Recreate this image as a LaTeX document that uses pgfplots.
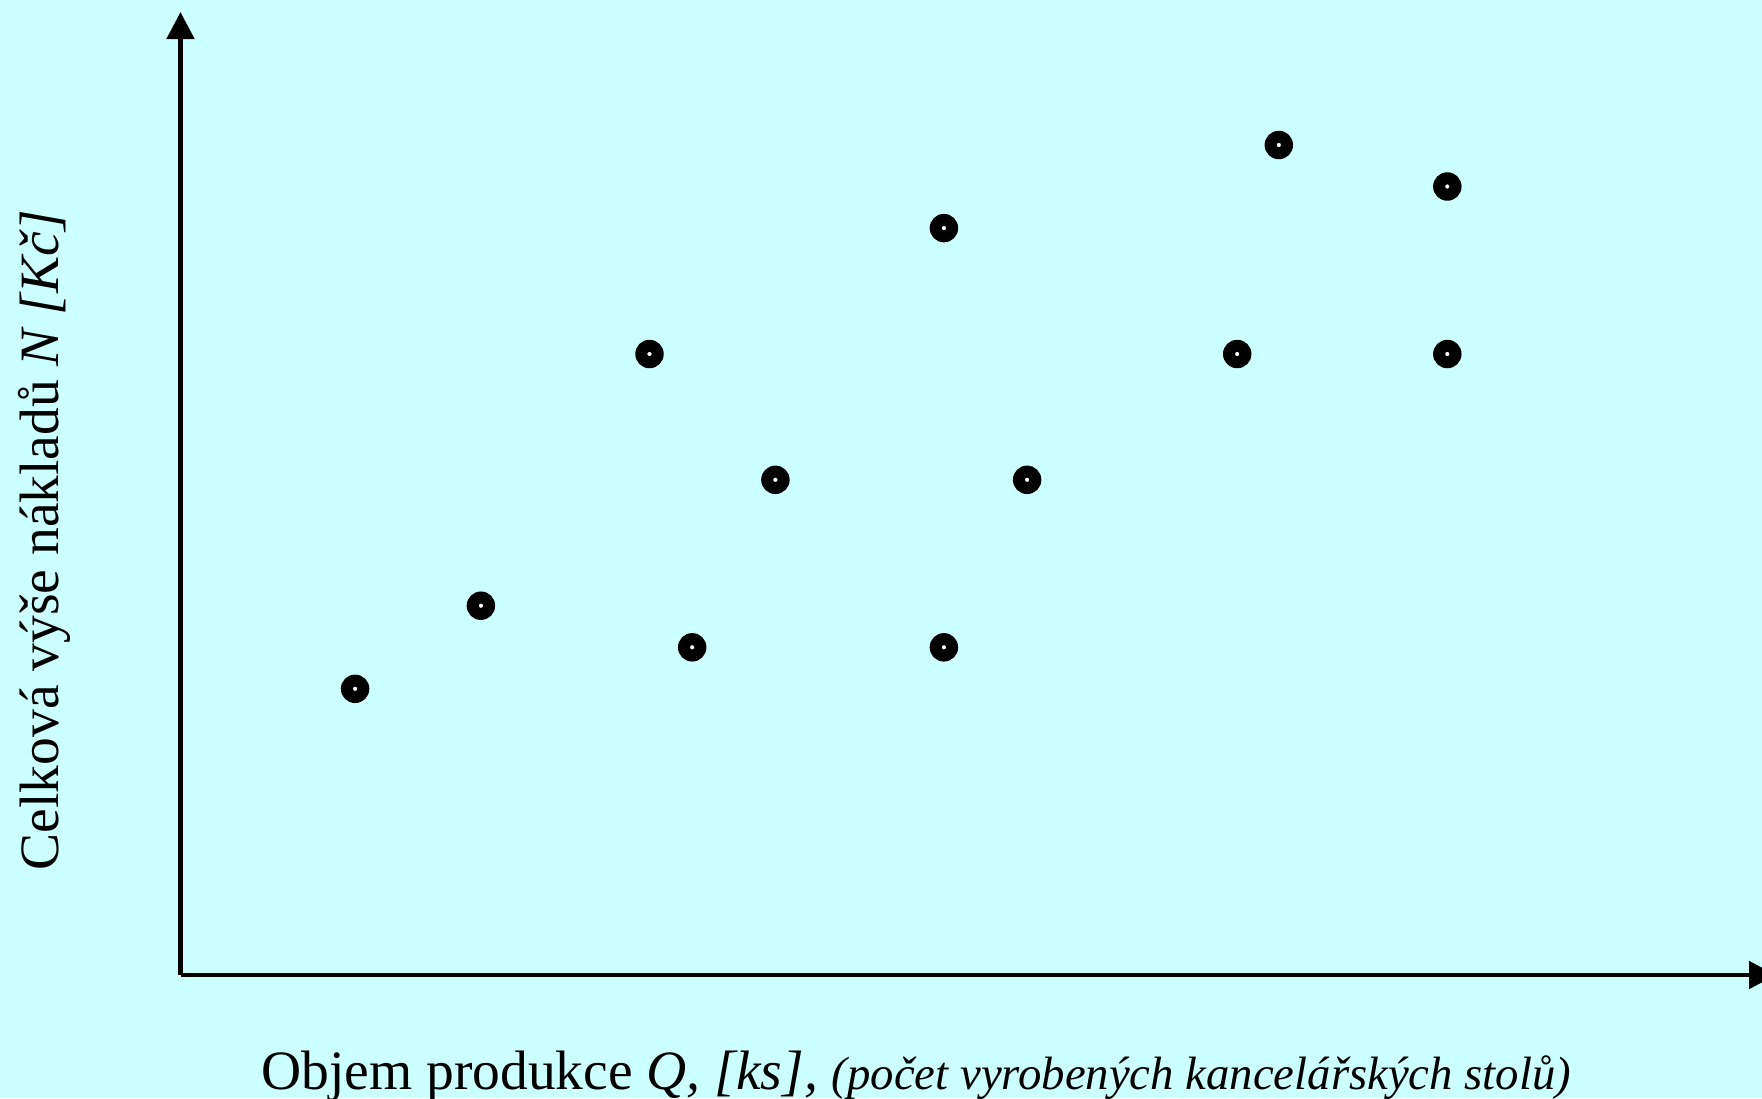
\documentclass[border=0pt]{standalone}
\usepackage{pgfplots}
\pgfplotsset{compat=1.18}
\usepackage{pgfplotstable}
\usepackage{fontspec}
\setmainfont{Liberation Serif}
\usetikzlibrary{arrows.meta,backgrounds}
\definecolor{bgcyan}{RGB}{204,255,255}

% Q [ks] vs N [Kc] (arbitrary units, no ticks)
\pgfplotstableread{
x      y
174.6  286.2
300.4  369.3
469.0  621.0
511.7  327.7
594.9  495.2
763.4  746.9
763.4  327.7
846.6  495.2
1056.7 621.0
1098.3 830.0
1266.8 788.5
1266.8 621.0
}\points

\begin{document}
\begin{tikzpicture}
\begin{axis}[
    scale only axis,
    width=15.955cm, height=9.63cm,
    xmin=0, xmax=1595.5, ymin=0, ymax=963,
    axis lines=left,
    axis line style={line width=1.4pt, -{Triangle[length=0.27cm,width=0.27cm]}},
    xtick=\empty, ytick=\empty,
    clip=false,
]
    \addplot[only marks, mark=*, mark size=3.85pt, mark options={draw=none, fill=black}] table {\points};
    \addplot[only marks, mark=*, mark size=0.85pt, mark options={draw=none, fill=white}] table {\points};

    \node[anchor=base west, font=\fontsize{15.8}{19}\selectfont, inner sep=0pt] at (axis cs:80,-114)
        {Objem produkce \textit{Q, [ks],} {\fontsize{13.3}{16}\selectfont\itshape (počet vyrobených kancelářských stolů)}};
    \node[rotate=90, anchor=base west, font=\fontsize{15.8}{19}\selectfont, inner sep=0pt] at (axis cs:-122.5,104)
        {Celková výše nákladů \textit{N [Kč]}};

    \coordinate (ll) at (axis cs:-180.5,-123);
    \coordinate (ur) at (axis cs:1581.5,975);
\end{axis}
\begin{scope}[on background layer]
    \fill[bgcyan] (ll) rectangle (ur);
\end{scope}
\pgfresetboundingbox
\useasboundingbox (ll) rectangle (ur);
\end{tikzpicture}
\end{document}
